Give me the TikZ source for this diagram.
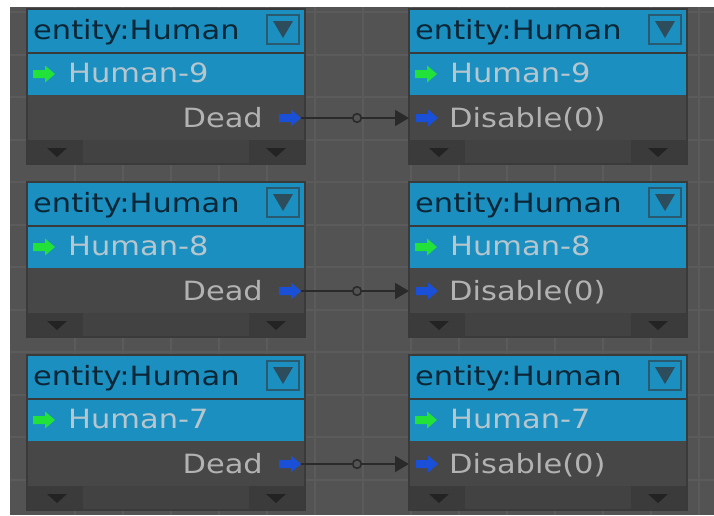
\documentclass[tikz,border=0pt]{standalone}
\usepackage{fontspec}
\usetikzlibrary{arrows.meta,calc}
\newfontfamily\uifont[FakeStretch=1.15]{DejaVu Sans}
\definecolor{bgc}{HTML}{535353}
\definecolor{gridc}{HTML}{5B5B5B}
\definecolor{framec}{HTML}{3A3A3A}
\definecolor{hdrc}{HTML}{1B8FBF}
\definecolor{bodyc}{HTML}{474747}
\definecolor{stripc}{HTML}{424242}
\definecolor{cellc}{HTML}{3B3B3B}
\definecolor{hdrtxt}{HTML}{0B2636}
\definecolor{subtxt}{HTML}{B6C6CE}
\definecolor{porttxt}{HTML}{B2B2B2}
\definecolor{btnc}{HTML}{2A5A70}
\definecolor{btntri}{HTML}{2E4D5C}
\definecolor{greenc}{HTML}{22E23A}
\definecolor{bluec}{HTML}{1A4FD8}
\definecolor{wirec}{HTML}{2A2A2A}
\definecolor{trianc}{HTML}{232323}
\tikzset{
  txt/.style={inner sep=0pt, font=\uifont\fontsize{26.5}{30}\selectfont},
  hdrtext/.style={txt, text=hdrtxt, anchor=base west},
  subtext/.style={txt, text=subtxt, anchor=base west},
  porttext/.style={txt, text=porttxt},
  wire/.style={draw=wirec, line width=1.8pt},
  wiretip/.style={-{Triangle[length=14pt,width=16pt]}},
  knot/.style={draw=wirec, line width=1.6pt, fill=bgc},
}
\newcommand{\portarrow}[3]{%
  \fill[#3] (#1,#2) ++(0,-4) -- ++(12,0) -- ++(0,-4.5) -- ++(10,8.5) -- ++(-10,8.5) -- ++(0,-4.5) -- ++(-12,0) -- cycle;}
\newcommand{\smalltri}[2]{%
  \fill[trianc] (#1,#2) ++(-10,-4) -- ++(20,0) -- ++(-10,9) -- cycle;}
% #1 X, #2 Y, #3 name, #4 human label, #5 is out (1) or in (0), #6 port label
\newcommand{\humanbox}[6]{%
  \begin{scope}[shift={(#1,#2)}]
    \fill[framec] (-2,-2) rectangle (278,155);
    \fill[hdrc] (0,0) rectangle (276,42);
    \fill[hdrc] (0,44) rectangle (276,85);
    \fill[bodyc] (0,85) rectangle (276,130);
    \fill[stripc] (0,130) rectangle (276,153);
    \fill[cellc] (0,130) rectangle (55,153);
    \fill[cellc] (221,130) rectangle (276,153);
    \smalltri{29}{142}
    \smalltri{248}{142}
    \draw[btnc, line width=2pt] (239,5) rectangle (271,34);
    \fill[btntri] (245,11) -- (265,11) -- (255,28) -- cycle;
    \node[hdrtext] (#3head) at (5,29) {entity:Human};
    \portarrow{5}{64}{greenc}
    \node[subtext] (#3name) at (40,72) {#4};
    \ifnum#5=1
      \node[porttext, anchor=base east] (#3port) at (235,117) {#6};
      \portarrow{251}{108}{bluec}
      \coordinate (#3out) at (273,108);
    \else
      \node[porttext, anchor=base west] (#3port) at (39,117) {#6};
      \portarrow{6}{108}{bluec}
      \coordinate (#3in) at (-1,108);
    \fi
  \end{scope}}
\begin{document}
\begin{tikzpicture}[x=1pt,y=-1pt]
  \useasboundingbox (0,0) rectangle (714,515);
  \fill[white] (0,0) rectangle (714,515);
  \fill[bgc] (10,7) rectangle (714,515);
  \foreach \k in {1,...,14} {\draw[gridc, line width=2pt] ({27+48*\k},7) -- ({27+48*\k},515);}
  \foreach \k in {0,...,11} {\draw[gridc, line width=2pt] (10,{12+42.5*\k}) -- (714,{12+42.5*\k});}
  \humanbox{28}{10}{La}{Human-9}{1}{Dead}
  \humanbox{410}{10}{Ra}{Human-9}{0}{Disable(0)}
  \humanbox{28}{183}{Lb}{Human-8}{1}{Dead}
  \humanbox{410}{183}{Rb}{Human-8}{0}{Disable(0)}
  \humanbox{28}{356}{Lc}{Human-7}{1}{Dead}
  \humanbox{410}{356}{Rc}{Human-7}{0}{Disable(0)}
  \foreach \s in {a,b,c} {
    \coordinate (M\s) at ($(L\s out)+(56,0)$);
    \draw[wire, wiretip] (L\s out) -- (M\s) -- (R\s in);
    \draw[knot] (M\s) circle (4.3);
  }
\end{tikzpicture}
\end{document}
